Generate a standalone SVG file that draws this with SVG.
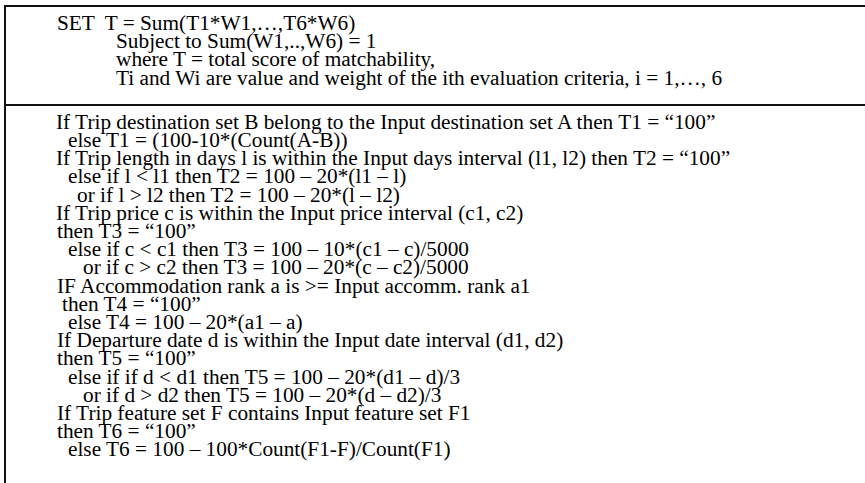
<svg xmlns="http://www.w3.org/2000/svg" width="865" height="483" viewBox="0 0 865 483">
<style>
.t{font-family:"Liberation Serif","Times New Roman",serif;font-size:21.3px;fill:#000;}
.b{stroke:#111;stroke-width:2;fill:none;}
</style>
<rect width="865" height="483" fill="#fff"/>
<g id="frame">
<line class="b" x1="5" y1="6" x2="865" y2="6"/>
<line class="b" x1="5" y1="5" x2="5" y2="483"/>
<line class="b" x1="5" y1="105" x2="865" y2="105"/>
</g>
<g id="header">
<text class="t" x="57" y="30" xml:space="preserve">SET  T = Sum(T1*W1,…,T6*W6)</text>
<text class="t" x="116" y="48.2">Subject to Sum(W1,..,W6) = 1</text>
<text class="t" x="116" y="66.4">where T = total score of matchability,</text>
<text class="t" x="116" y="84.6">Ti and Wi are value and weight of the ith evaluation criteria, i = 1,…, 6</text>
</g>
<g id="rules">
<text class="t" x="56" y="128.8">If Trip destination set B belong to the Input destination set A then T1 = “100”</text>
<text class="t" x="68" y="147">else T1 = (100-10*(Count(A-B))</text>
<text class="t" x="56" y="165.2">If Trip length in days l is within the Input days interval (l1, l2) then T2 = “100”</text>
<text class="t" x="68" y="183.4">else if l &lt; l1 then T2 = 100 – 20*(l1 – l)</text>
<text class="t" x="77" y="201.6">or if l &gt; l2 then T2 = 100 – 20*(l – l2)</text>
<text class="t" x="56" y="219.8">If Trip price c is within the Input price interval (c1, c2)</text>
<text class="t" x="57" y="238">then T3 = “100”</text>
<text class="t" x="68" y="256.2">else if c &lt; c1 then T3 = 100 – 10*(c1 – c)/5000</text>
<text class="t" x="83" y="274.4">or if c &gt; c2 then T3 = 100 – 20*(c – c2)/5000</text>
<text class="t" x="57" y="292.6">IF Accommodation rank a is &gt;= Input accomm. rank a1</text>
<text class="t" x="62" y="310.8">then T4 = “100”</text>
<text class="t" x="68" y="329">else T4 = 100 – 20*(a1 – a)</text>
<text class="t" x="57" y="347.2">If Departure date d is within the Input date interval (d1, d2)</text>
<text class="t" x="57" y="365.4">then T5 = “100”</text>
<text class="t" x="68" y="383.6">else if if d &lt; d1 then T5 = 100 – 20*(d1 – d)/3</text>
<text class="t" x="83" y="401.8">or if d &gt; d2 then T5 = 100 – 20*(d – d2)/3</text>
<text class="t" x="57" y="420">If Trip feature set F contains Input feature set F1</text>
<text class="t" x="57" y="438.2">then T6 = “100”</text>
<text class="t" x="68" y="456.4">else T6 = 100 – 100*Count(F1-F)/Count(F1)</text>
</g>
</svg>
